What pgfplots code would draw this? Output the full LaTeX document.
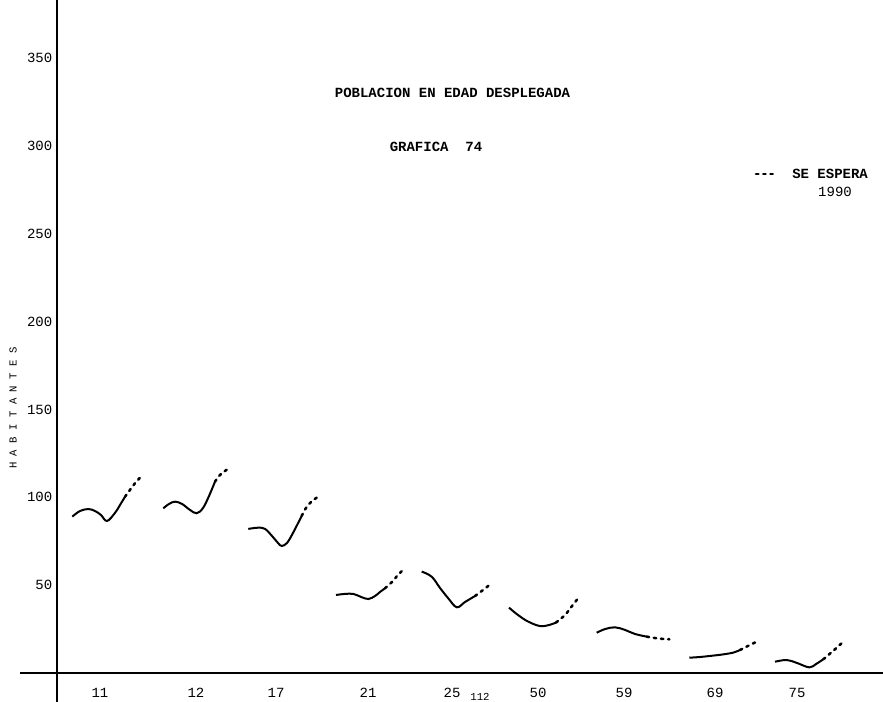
\documentclass[border=0pt]{standalone}
\usepackage{pgfplots}
\pgfplotsset{compat=1.18}
\usepackage{fontspec}
\setmainfont{Liberation Mono}
\begin{document}
\begin{tikzpicture}
\begin{axis}[
  width=662.25pt, height=526.5pt, scale only axis,
  xmin=-57, xmax=826, ymin=-16.5, ymax=383,
  axis lines=middle,
  axis line style={-, line width=1pt, black},
  x axis line style={draw=none},
  clip=false,
  ytick={50,100,150,200,250,300,350},
  yticklabel style={font=\fontsize{10.5}{12}\selectfont, xshift=1pt},
  ytick style={line width=1.2pt},
  major tick length=2pt,
  xtick={43,139,219,311,395,481,567,658,740},
  xticklabels={11,12,17,21,25,50,59,69,75},
  xticklabel style={font=\fontsize{10.5}{12}\selectfont, yshift=-7pt},
  xtick style={draw=none},
  /pgf/number format/assume math mode=true,
  solid/.style={black, line width=1.5pt, smooth, tension=0.6},
  dots/.style={black, line width=1.9pt, line cap=round, dash pattern=on 1.8pt off 3.6pt, smooth},
]
\coordinate (bl) at (rel axis cs:0,0);
\coordinate (tr) at (rel axis cs:1,1);
\draw[black, line width=1pt] (axis cs:-37,0) -- (axis cs:826,0);
% group 11
\addplot[solid] coordinates {(15.3,89.0) (23,92.2) (31.3,93.3) (38,92.2) (44,89.9) (50,86.5) (58,91.1) (63,95.6) (68,100.3)};
\addplot[dots] coordinates {(68,100.3) (73,104.2) (79,108.7) (84.7,112.1)};
% group 12
\addplot[solid] coordinates {(106.3,93.7) (112,96.2) (118,97.5) (125,96.2) (133,92.8) (139.7,90.9) (146,93.9) (152,100.7) (158,108.9)};
\addplot[dots] coordinates {(158,108.9) (163,112.7) (170.3,115.9)};
% group 17
\addplot[solid] coordinates {(191.3,82.0) (201.3,82.7) (208,82.0) (215,78.0) (221,74.0) (224.7,72.3) (230,74.0) (236,79.7) (244.7,89.4)};
\addplot[dots] coordinates {(244.7,89.4) (249,93.9) (254,97.3) (259.7,99.8)};
% group 21
\addplot[solid] coordinates {(279,44.4) (288,45.0) (296.3,45.0) (304,43.3) (311.3,42.1) (318,43.8) (323,46.1) (328,48.2)};
\addplot[dots] coordinates {(328,48.2) (335,51.8) (341,55.8) (347,59.2)};
% group 25
\addplot[solid] coordinates {(364.7,57.7) (374.7,54.8) (383,48.4) (391,42.7) (399.7,37.4) (408,40.4) (418,43.8)};
\addplot[dots] coordinates {(418,43.8) (426,47.2) (434.7,51.1)};
% group 50
\addplot[solid] coordinates {(452,37.2) (461,33.0) (471,29.3) (483,26.7) (492,27.3) (499,28.7)};
\addplot[dots] coordinates {(499,28.7) (508,33.0) (515,38.1) (521.3,42.7)};
% group 59
\addplot[solid] coordinates {(539.7,22.9) (548,25.0) (558,26.0) (568,24.5) (578,22.2) (589.7,20.7)};
\addplot[dots] coordinates {(589.7,20.7) (598,19.9) (606,19.4) (612.3,19.2)};
% group 69
\addplot[solid] coordinates {(632.3,8.7) (643,9.1) (653,9.7) (665,10.5) (676.3,11.6) (683,13.1)};
\addplot[dots] coordinates {(683,13.1) (691,15.4) (699.7,17.8)};
% group 75
\addplot[solid] coordinates {(718,6.4) (729.7,7.4) (740,5.7) (752.3,3.2) (759,5.1) (766.3,7.8)};
\addplot[dots] coordinates {(766.3,7.8) (776,12.5) (786.3,17.8)};
% texts
\node[font=\fontsize{10.5}{12}\selectfont\bfseries] at (axis cs:395.5,330.1) {POBLACION EN EDAD DESPLEGADA};
\node[font=\fontsize{10.5}{12}\selectfont\bfseries] at (axis cs:379,299.4) {GRAFICA\ \ 74};
\draw[black, line width=1.9pt, line cap=round, dash pattern=on 1.8pt off 3.6pt] (axis cs:699,284) -- (axis cs:716,284);
\node[font=\fontsize{10.5}{12}\selectfont\bfseries, anchor=west, inner sep=0pt] at (axis cs:735,284) {SE ESPERA};
\node[font=\fontsize{10.5}{12}\selectfont] at (axis cs:778,273.8) {1990};
\node[font=\fontsize{8}{9}\selectfont] at (axis cs:423,-13.7) {112};
\node[font=\fontsize{8}{9}\selectfont, rotate=90] at (axis cs:-44,150.8) {H A B I T A N T E S};
\end{axis}
\pgfresetboundingbox
\useasboundingbox (bl) rectangle (tr);
\end{tikzpicture}
\end{document}
